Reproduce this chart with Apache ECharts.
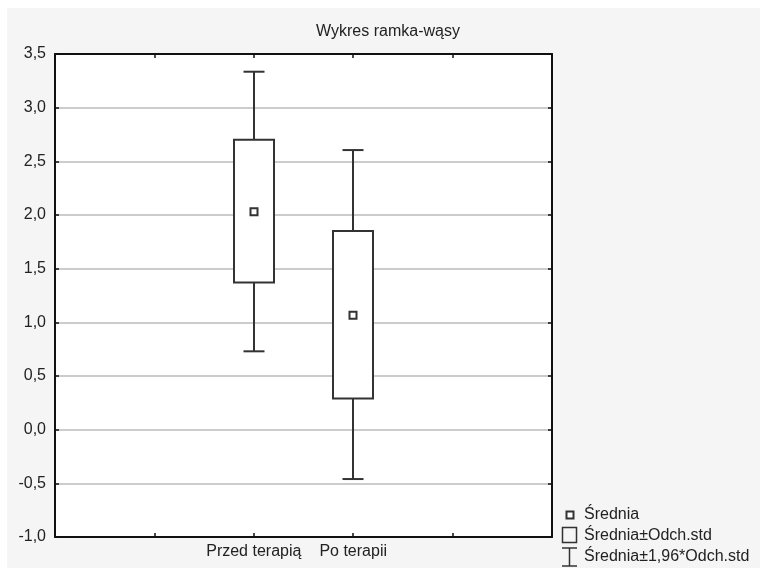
<!DOCTYPE html>
<html><head><meta charset="utf-8">
<script src="https://cdn.jsdelivr.net/npm/echarts@6/dist/echarts.min.js"></script>
<style>
html,body{margin:0;padding:0;background:#fff;}
#bg{position:absolute;left:7px;top:8px;width:753px;height:560px;background:#f5f5f5;}
#c{position:absolute;left:0;top:0;width:760px;height:568px;}
</style>
</head><body><div id="bg"></div><div id="c"></div>
<script>
// ---- data ----
const categories = ['Przed terapią', 'Po terapii'];
const xSlots = ['', '', 'Przed terapią', 'Po terapii', '', ''];
const means  = [2.03, 1.065];
const sdLow  = [1.37, 0.29];
const sdHigh = [2.70, 1.85];
const ciLow  = [0.73, -0.46];
const ciHigh = [3.335, 2.605];
const yMin = -1.0, yMax = 3.5, yStep = 0.5;
const titleText = 'Wykres ramka-wąsy';
const legendLabels = ['Średnia', 'Średnia±Odch.std', 'Średnia±1,96*Odch.std'];

const FONT = 'Liberation Sans, Arial, sans-serif';
const FS = 16;
const INK = '#222';

const chart = echarts.init(document.getElementById('c'), null, {renderer: 'canvas'});

const boxData = categories.map((c, i) => [xSlots.indexOf(c), ciLow[i], sdLow[i], means[i], sdHigh[i], ciHigh[i]]);

function renderBox(params, api) {
  const x = api.value(0);
  const pLo = api.coord([x, api.value(1)]);
  const pSL = api.coord([x, api.value(2)]);
  const pM  = api.coord([x, api.value(3)]);
  const pSH = api.coord([x, api.value(4)]);
  const pHi = api.coord([x, api.value(5)]);
  const cx = Math.round(pM[0]);
  const bw = 40, cw = 21;
  const st = {stroke: '#333', lineWidth: 2, fill: null};
  return {
    type: 'group',
    children: [
      {type: 'line', shape: {x1: cx, y1: pHi[1], x2: cx, y2: pSH[1]}, style: st},
      {type: 'line', shape: {x1: cx, y1: pSL[1], x2: cx, y2: pLo[1]}, style: st},
      {type: 'line', shape: {x1: cx - cw / 2, y1: pHi[1], x2: cx + cw / 2, y2: pHi[1]}, style: st},
      {type: 'line', shape: {x1: cx - cw / 2, y1: pLo[1], x2: cx + cw / 2, y2: pLo[1]}, style: st},
      {type: 'rect', shape: {x: cx - bw / 2, y: pSH[1], width: bw, height: pSL[1] - pSH[1]},
        style: {stroke: '#333', lineWidth: 2, fill: '#fff'}},
      {type: 'rect', shape: {x: cx - 3.5, y: pM[1] - 3.5, width: 7, height: 7},
        style: {stroke: '#333', lineWidth: 2, fill: '#fff'}}
    ]
  };
}

const axisLineStyle = {show: true, onZero: false, lineStyle: {color: '#111', width: 2}};
const tickStyle = {show: true, inside: true, length: 4, lineStyle: {color: '#111', width: 1.5}};

const legendTop = [515, 536, 557];
const legendTextX = 584;

const option = {
  backgroundColor: 'transparent',
  animation: false,
  textStyle: {fontFamily: FONT},
  grid: {left: 55, top: 54, right: 208, bottom: 31, show: true, backgroundColor: '#fff', borderWidth: 0},
  xAxis: [
    {type: 'category', data: xSlots, boundaryGap: false, position: 'bottom',
      axisLine: axisLineStyle, axisTick: Object.assign({interval: 0}, tickStyle),
      axisLabel: {interval: 0, color: INK, fontSize: FS, fontFamily: FONT, margin: 7},
      splitLine: {show: false}},
    {type: 'category', data: xSlots, boundaryGap: false, position: 'top',
      axisLine: axisLineStyle, axisTick: Object.assign({interval: 0}, tickStyle),
      axisLabel: {show: false}, splitLine: {show: false}}
  ],
  yAxis: [
    {type: 'value', min: yMin, max: yMax, interval: yStep, position: 'left',
      axisLine: axisLineStyle, axisTick: tickStyle,
      axisLabel: {color: INK, fontSize: FS, fontFamily: FONT, margin: 9,
        formatter: v => v.toFixed(1).replace('.', ',')},
      splitLine: {show: true, lineStyle: {color: '#cccccc', width: 2}}},
    {type: 'value', min: yMin, max: yMax, interval: yStep, position: 'right',
      axisLine: axisLineStyle, axisTick: tickStyle,
      axisLabel: {show: false}, splitLine: {show: false}}
  ],
  series: [
    {type: 'custom', xAxisIndex: 0, yAxisIndex: 0, data: boxData, renderItem: renderBox, z: 3, clip: false}
  ],
  graphic: [
    {type: 'text', x: 388, y: 32, style: {text: titleText, fill: INK, font: `16px ${FONT}`, textAlign: 'center', textVerticalAlign: 'middle'}},
    // legend symbols
    {type: 'rect', shape: {x: 566.5, y: legendTop[0] - 3.5, width: 7, height: 7}, style: {stroke: '#333', lineWidth: 2, fill: '#fff'}},
    {type: 'rect', shape: {x: 562.5, y: 527.5, width: 14, height: 15}, style: {stroke: '#333', lineWidth: 1.5, fill: 'transparent'}},
    {type: 'line', shape: {x1: 569.5, y1: 548, x2: 569.5, y2: 566}, style: {stroke: '#333', lineWidth: 1.5}},
    {type: 'line', shape: {x1: 562, y1: 548, x2: 577, y2: 548}, style: {stroke: '#333', lineWidth: 1.5}},
    {type: 'line', shape: {x1: 562, y1: 566, x2: 577, y2: 566}, style: {stroke: '#333', lineWidth: 1.5}},
    // legend texts
    ...legendLabels.map((t, i) => ({type: 'text', x: legendTextX, y: legendTop[i],
      style: {text: t, fill: INK, font: `${FS}px ${FONT}`, textAlign: 'left', textVerticalAlign: 'middle'}}))
  ]
};
chart.setOption(option);
</script>
</body></html>
